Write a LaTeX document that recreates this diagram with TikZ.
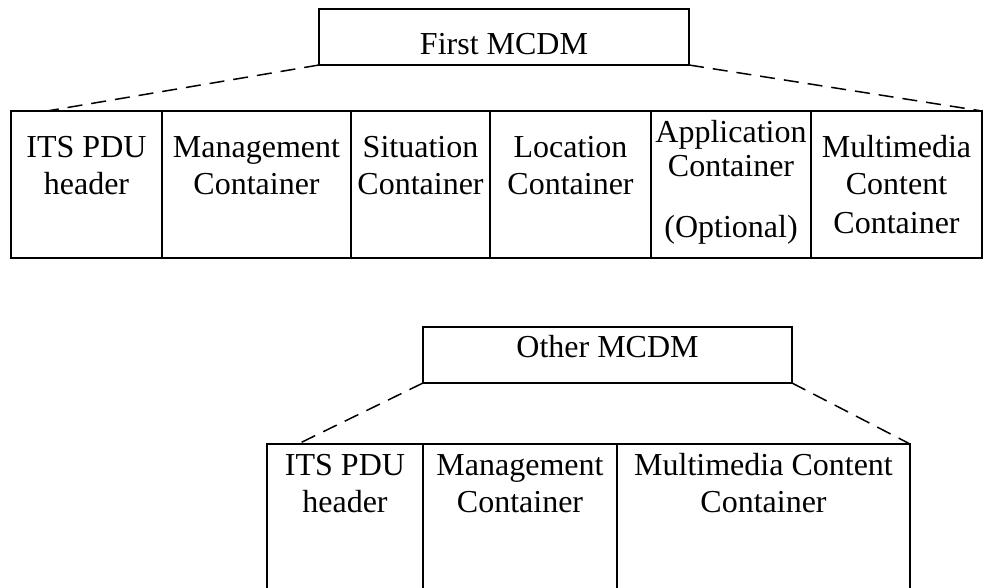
\documentclass[tikz,border=0pt]{standalone}
\usepackage{fontspec}
\setmainfont{Liberation Serif}
\usetikzlibrary{positioning}

\begin{document}
\begin{tikzpicture}[x=1pt, y=1pt,
  font=\fontsize{32}{37}\selectfont,
  cell/.style={draw, line width=2pt, minimum height=147pt, inner sep=0pt, outer sep=0pt, anchor=north west},
  head/.style={draw, line width=2pt, minimum width=370pt, minimum height=56pt, inner sep=0pt, outer sep=0pt},
  txt/.style={align=center, inner sep=0pt, anchor=north},
  link/.style={line width=1.5pt, dash pattern=on 15pt off 9pt}]

  \useasboundingbox (0,0) rectangle (984,-587);

  \node[head] (first) at (504,-37) {};
  \node[txt, anchor=base] (firsttxt) at ([yshift=-17pt]first.center) {First MCDM};

  \node[cell, minimum width=151pt] (its) at (11,-111) {};
  \node[cell, minimum width=189pt, right=0pt of its] (mgmt) {};
  \node[cell, minimum width=139pt, right=0pt of mgmt] (sit) {};
  \node[cell, minimum width=161pt, right=0pt of sit] (loc) {};
  \node[cell, minimum width=160pt, right=0pt of loc] (app) {};
  \node[cell, minimum width=171pt, right=0pt of app] (mm) {};

  \node[txt] (itstxt) at ([yshift=-20.1pt]its.north) {\strut ITS PDU\\header};
  \node[txt] (mgmttxt) at ([yshift=-20.1pt]mgmt.north) {\strut Management\\Container};
  \node[txt] (sittxt) at ([yshift=-20.1pt]sit.north) {\strut Situation\\Container};
  \node[txt] (loctxt) at ([yshift=-20.1pt]loc.north) {\strut Location\\Container};
  \node[txt] (apptxt) at ([yshift=-5.1pt]app.north) {\strut Application\\[-3pt]Container\\[24pt](Optional)};
  \node[txt] (mmtxt) at ([yshift=-20.1pt]mm.north) {\strut Multimedia\\Content\\[2pt]Container};

  \coordinate (fl) at ([xshift=36pt]its.north west);
  \draw[link] (first.south west) -- (fl);
  \draw[link] (first.south east) -- (mm.north east);

  \node[head, minimum width=369pt] (other) at (607.5,-355) {};
  \node[txt, anchor=base] (othertxt) at ([yshift=-2pt]other.center) {Other MCDM};

  \node[cell, minimum width=156pt, minimum height=150pt] (its2) at (267,-444) {};
  \node[cell, minimum width=194pt, minimum height=150pt, right=0pt of its2] (mgmt2) {};
  \node[cell, minimum width=293pt, minimum height=150pt, right=0pt of mgmt2] (mm2) {};

  \node[txt] (its2txt) at ([yshift=-5.1pt]its2.north) {\strut ITS PDU\\header};
  \node[txt] (mgmt2txt) at ([yshift=-5.1pt]mgmt2.north) {\strut Management\\Container};
  \node[txt] (mm2txt) at ([yshift=-5.1pt]mm2.north) {\strut Multimedia Content\\Container};

  \coordinate (ol) at ([xshift=31pt]its2.north west);
  \draw[link] (other.south west) -- (ol);
  \draw[link] (other.south east) -- (mm2.north east);
\end{tikzpicture}
\end{document}
